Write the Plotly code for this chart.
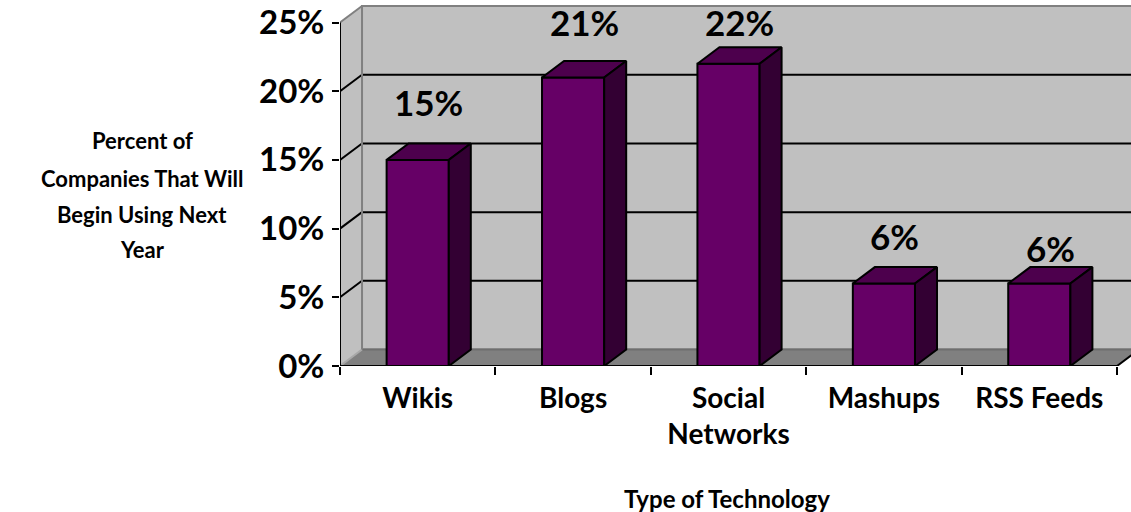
import plotly.graph_objects as go

# ---- data -------------------------------------------------------------
categories = ["Wikis", "Blogs", "Social Networks", "Mashups", "RSS Feeds"]
tick_labels = ["Wikis", "Blogs", "Social<br>Networks", "Mashups", "RSS Feeds"]
adoption_pct = [15, 21, 22, 6, 6]
y_tick_values = [0, 5, 10, 15, 20, 25]
y_tick_labels = ["0%", "5%", "10%", "15%", "20%", "25%"]
y_title_lines = ["Percent of", "Companies That Will", "Begin Using Next", "Year"]
x_title = "Type of Technology"

# ---- geometry / style -------------------------------------------------
BAR_W = 0.4            # bar width in category units
DEPTH_X = 0.1416       # 3-D depth offset along x (category units)
DEPTH_Y = 1.2          # 3-D depth offset along y (percent units)
X_RANGE = [-0.5, 4.59]
Y_RANGE = [0, 26.64]
FRONT, TOP, SIDE = "#660066", "#4d004d", "#330033"
WALL, WALL_EDGE, FLOOR, FLOOR_EDGE = "#c0c0c0", "#808080", "#808080", "#6e6e6e"
FONT = "Lato"
label_lift_px = [58, 55, 42, 48, 36]     # vertical placement of value labels
title_line_px = [140, 178, 214, 249]     # y centres of the y-title lines

n = len(categories)
xs = list(range(n))
x_lo, x_hi = -0.5, n - 0.5
y_top = y_tick_values[-1]

fig = go.Figure()

# front faces
fig.add_trace(go.Bar(
    x=xs, y=adoption_pct, width=BAR_W,
    marker=dict(color=FRONT, line=dict(color="black", width=2)),
    hoverinfo="skip", showlegend=False,
))

# top and side faces, built from the same values
top_x, top_y, side_x, side_y = [], [], [], []
for x, v in zip(xs, adoption_pct):
    l, r = x - BAR_W / 2, x + BAR_W / 2
    top_x += [l, r, r + DEPTH_X, l + DEPTH_X, l, None]
    top_y += [v, v, v + DEPTH_Y, v + DEPTH_Y, v, None]
    side_x += [r, r + DEPTH_X, r + DEPTH_X, r, r, None]
    side_y += [0, DEPTH_Y, v + DEPTH_Y, v, 0, None]

fig.add_trace(go.Scatter(x=top_x, y=top_y, mode="lines", fill="toself",
                         fillcolor=TOP, line=dict(color="black", width=2),
                         hoverinfo="skip", showlegend=False))
fig.add_trace(go.Scatter(x=side_x, y=side_y, mode="lines", fill="toself",
                         fillcolor=SIDE, line=dict(color="black", width=2),
                         hoverinfo="skip", showlegend=False))

# ---- walls, floor and gridlines ---------------------------------------
def poly(pts):
    return "M " + " L ".join(f"{a},{b}" for a, b in pts) + " Z"

shapes = []
# back wall
shapes.append(dict(type="rect", xref="x", yref="y", layer="below",
                   x0=x_lo + DEPTH_X, x1=x_hi + DEPTH_X,
                   y0=DEPTH_Y, y1=y_top + DEPTH_Y,
                   fillcolor=WALL, line=dict(color=WALL_EDGE, width=2)))
# left wall
shapes.append(dict(type="path", xref="x", yref="y", layer="below",
                   path=poly([(x_lo, 0), (x_lo + DEPTH_X, DEPTH_Y),
                              (x_lo + DEPTH_X, y_top + DEPTH_Y), (x_lo, y_top)]),
                   fillcolor=WALL, line=dict(width=0)))
# floor
shapes.append(dict(type="path", xref="x", yref="y", layer="below",
                   path=poly([(x_lo, 0), (x_hi, 0), (x_hi + DEPTH_X, DEPTH_Y),
                              (x_lo + DEPTH_X, DEPTH_Y)]),
                   fillcolor=FLOOR, line=dict(width=0)))
shapes.append(dict(type="line", xref="x", yref="y", layer="below",
                   x0=x_lo + DEPTH_X, x1=x_hi + DEPTH_X, y0=DEPTH_Y, y1=DEPTH_Y,
                   line=dict(color=FLOOR_EDGE, width=2)))
# gridlines on back wall + left wall
for v in y_tick_values[1:-1]:
    shapes.append(dict(type="line", xref="x", yref="y", layer="below",
                       x0=x_lo + DEPTH_X, x1=x_hi + DEPTH_X,
                       y0=v + DEPTH_Y, y1=v + DEPTH_Y,
                       line=dict(color="black", width=2)))
    shapes.append(dict(type="line", xref="x", yref="y", layer="below",
                       x0=x_lo, x1=x_lo + DEPTH_X, y0=v, y1=v + DEPTH_Y,
                       line=dict(color="black", width=2)))
# wall edges
shapes.append(dict(type="line", xref="x", yref="y", layer="below",
                   x0=x_lo, x1=x_lo + DEPTH_X, y0=y_top, y1=y_top + DEPTH_Y,
                   line=dict(color=WALL_EDGE, width=2)))
shapes.append(dict(type="line", xref="x", yref="y", layer="below",
                   x0=x_lo, x1=x_lo + DEPTH_X, y0=0, y1=DEPTH_Y,
                   line=dict(color="#a8a8a8", width=2)))
shapes.append(dict(type="line", xref="x", yref="y", layer="below",
                   x0=x_lo + DEPTH_X, x1=x_lo + DEPTH_X, y0=DEPTH_Y, y1=y_top + DEPTH_Y,
                   line=dict(color=WALL_EDGE, width=2)))
# front axis lines
shapes.append(dict(type="line", xref="x", yref="y", layer="below",
                   x0=x_lo, x1=x_lo, y0=0, y1=y_top,
                   line=dict(color="black", width=2)))
shapes.append(dict(type="path", xref="x", yref="y", layer="below",
                   path=f"M {x_lo},0 L {x_hi},0 L {x_hi + DEPTH_X},{DEPTH_Y}",
                   line=dict(color="black", width=2)))

# ---- annotations ------------------------------------------------------
annotations = []
for x, v, lift in zip(xs, adoption_pct, label_lift_px):
    annotations.append(dict(
        x=x + DEPTH_X / 2, y=v, xref="x", yref="y", text=f"{v}%",
        showarrow=False, xanchor="center", yanchor="middle", yshift=lift,
        font=dict(family=FONT, size=35, color="black", weight="bold")))

for line, ypx in zip(y_title_lines, title_line_px):
    annotations.append(dict(
        x=0, y=1, xref="paper", yref="paper", xshift=142 - 340, yshift=-ypx,
        text=line, showarrow=False, xanchor="center", yanchor="middle",
        font=dict(family=FONT, size=22, color="black", weight="bold")))

annotations.append(dict(
    x=0, y=0, xref="paper", yref="paper", xshift=727 - 340, yshift=-132,
    text=x_title, showarrow=False, xanchor="center", yanchor="middle",
    font=dict(family=FONT, size=24, color="black", weight="bold")))

fig.update_layout(
    width=1131, height=512,
    margin=dict(l=340, r=0, t=0, b=146, pad=0),
    paper_bgcolor="white", plot_bgcolor="white",
    shapes=shapes, annotations=annotations,
    xaxis=dict(range=X_RANGE, tickmode="array", tickvals=xs, ticktext=tick_labels,
               ticks="", showline=False, showgrid=False, zeroline=False,
               tickfont=dict(family=FONT, size=28, color="black", weight="bold"),
               ticklabelstandoff=13,
               minor=dict(ticks="outside", tickmode="array",
                          tickvals=[x_lo + i for i in range(n + 1)],
                          ticklen=8, tickwidth=2, tickcolor="black", showgrid=False)),
    yaxis=dict(range=Y_RANGE, tickmode="array", tickvals=y_tick_values,
               ticktext=y_tick_labels, ticks="outside", ticklen=7, tickwidth=2,
               tickcolor="black", showline=False, showgrid=False, zeroline=False,
               tickfont=dict(family=FONT, size=33, color="black", weight="bold"),
               ticklabelstandoff=1),
)

fig.write_html("out.html")
